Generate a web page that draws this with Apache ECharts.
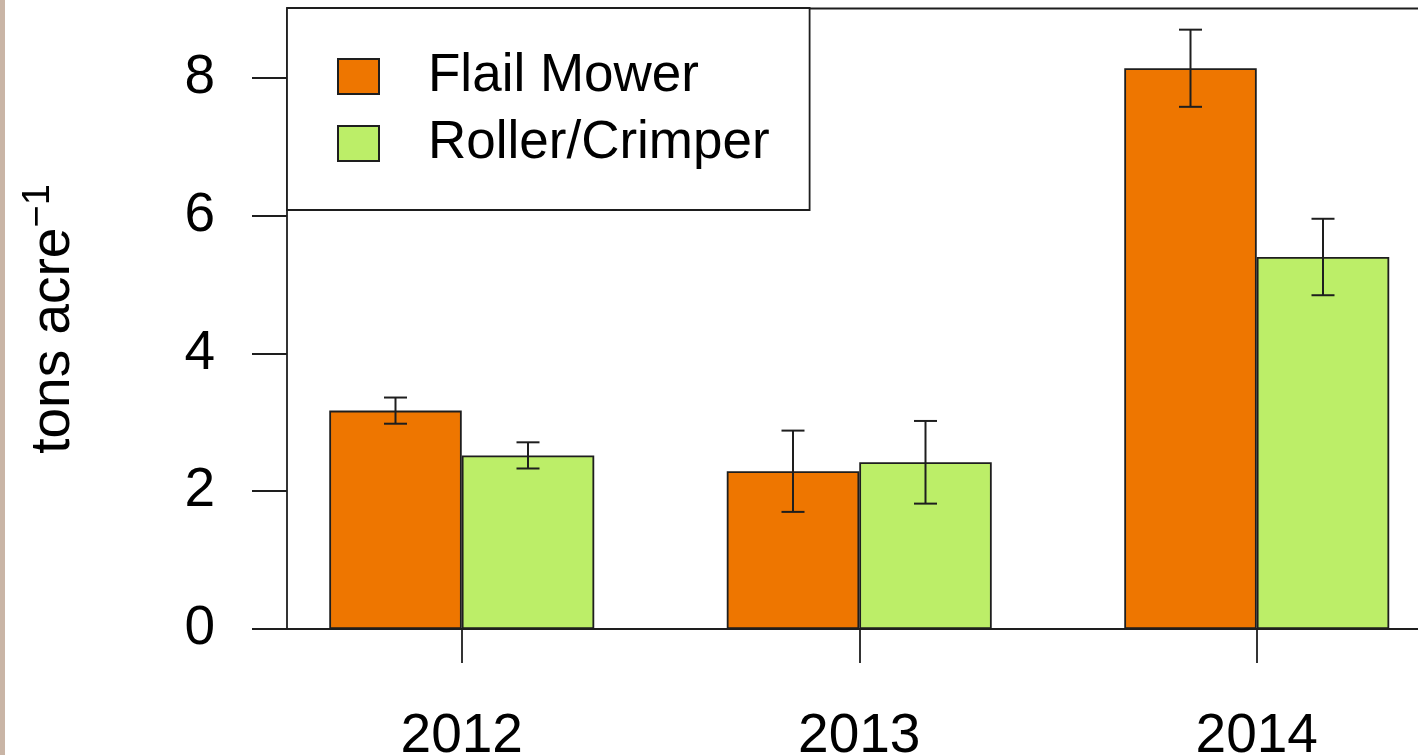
<!DOCTYPE html>
<html>
<head>
<meta charset="utf-8">
<script src="https://cdn.jsdelivr.net/npm/echarts@6/dist/echarts.min.js"></script>
<style>
  html, body { margin: 0; padding: 0; background: #fff; }
  #chart { width: 1418px; height: 755px; }
</style>
</head>
<body>
<div id="chart"></div>
<script>
// data
var years = ['2012', '2013', '2014'];
var flailMower = [3.17, 2.29, 8.14];
var flailErr = [0.19, 0.59, 0.56];
var rollerCrimper = [2.52, 2.42, 5.40];
var rollerErr = [0.19, 0.60, 0.555];
var yTicks = [0, 2, 4, 6, 8];

var FONT = '"Liberation Sans", Arial, sans-serif';
var ORANGE = '#EE7600';
var GREEN = '#BCEE68';
var INK = '#1e1e1e';

function errData(vals, errs) {
    var out = [];
    for (var i = 0; i < vals.length; i++) {
        out.push([i, vals[i] - errs[i], vals[i] + errs[i]]);
    }
    return out;
}

// side: -1 left bar, +1 right bar
function errRender(side) {
    return function (params, api) {
        var idx = api.value(0);
        var lo = api.coord([idx, api.value(1)]);
        var hi = api.coord([idx, api.value(2)]);
        var band = api.size([1, 0])[0];
        var x = lo[0] + side * band / 6;
        var cap = 11.5;
        var st = { stroke: INK, lineWidth: 2 };
        return {
            type: 'group',
            children: [
                { type: 'line', shape: { x1: x, y1: lo[1], x2: x, y2: hi[1] }, style: st },
                { type: 'line', shape: { x1: x - cap, y1: lo[1], x2: x + cap, y2: lo[1] }, style: st },
                { type: 'line', shape: { x1: x - cap, y1: hi[1], x2: x + cap, y2: hi[1] }, style: st }
            ]
        };
    };
}

var chart = echarts.init(document.getElementById('chart'));

var option = {
    animation: false,
    backgroundColor: '#fff',
    textStyle: { fontFamily: FONT },
    grid: { left: 263, right: -37.5, top: 9, bottom: 126, containLabel: false, outerBoundsMode: 'none' },
    legend: {
        data: ['Flail Mower', 'Roller/Crimper'],
        orient: 'vertical',
        left: 287,
        top: 8,
        padding: [42, 40, 40, 50],
        itemGap: 14,
        itemWidth: 41,
        itemHeight: 35,
        backgroundColor: '#fff',
        borderColor: INK,
        borderWidth: 1.8,
        borderRadius: 0,
        selectedMode: false,
        icon: 'rect',
        textStyle: {
            fontFamily: FONT,
            fontSize: 53,
            color: '#000',
            padding: [0, 0, 0, 44]
        }
    },
    xAxis: {
        type: 'category',
        data: years,
        axisLine: { lineStyle: { color: INK, width: 1.8 } },
        axisTick: { show: true, alignWithLabel: true, length: 34, lineStyle: { color: INK, width: 1.8 } },
        axisLabel: { fontSize: 55, color: '#000', margin: 80, fontFamily: FONT },
        splitLine: { show: false }
    },
    yAxis: {
        type: 'value',
        min: 0,
        max: 9,
        interval: 2,
        offset: -24,
        name: '{a|tons acre}{s|\u22121}',
        nameLocation: 'middle',
        nameRotate: 90,
        nameGap: 199,
        nameTextStyle: {
            rich: {
                a: { fontSize: 55, fontFamily: FONT, color: '#000' },
                s: { fontSize: 38, fontFamily: FONT, color: '#000', padding: [0, 0, 30, 0] }
            }
        },
        axisLine: { show: true, lineStyle: { color: INK, width: 1.8 } },
        axisTick: { show: true, length: 35, customValues: yTicks, lineStyle: { color: INK, width: 1.8 } },
        axisLabel: { fontSize: 55, color: '#000', margin: 72, fontFamily: FONT, customValues: yTicks },
        splitLine: { show: false }
    },
    series: [
        {
            name: 'Flail Mower',
            type: 'bar',
            data: flailMower,
            barWidth: '33.333%',
            barGap: '0%',
            itemStyle: { color: ORANGE, borderColor: INK, borderWidth: 1.8 }
        },
        {
            name: 'Roller/Crimper',
            type: 'bar',
            data: rollerCrimper,
            barWidth: '33.333%',
            barGap: '0%',
            itemStyle: { color: GREEN, borderColor: INK, borderWidth: 1.8 }
        },
        {
            type: 'custom',
            renderItem: errRender(-1),
            data: errData(flailMower, flailErr),
            z: 5,
            silent: true
        },
        {
            type: 'custom',
            renderItem: errRender(1),
            data: errData(rollerCrimper, rollerErr),
            z: 5,
            silent: true
        }
    ],
    graphic: [
        { type: 'rect', left: 0, top: 0, shape: { width: 5, height: 755 }, style: { fill: '#C9B5A6' }, silent: true },
        { type: 'line', shape: { x1: 287, y1: 8.5, x2: 1418, y2: 8.5 }, style: { stroke: INK, lineWidth: 1.8 }, z: 0, silent: true }
    ]
};

chart.setOption(option);
</script>
</body>
</html>
